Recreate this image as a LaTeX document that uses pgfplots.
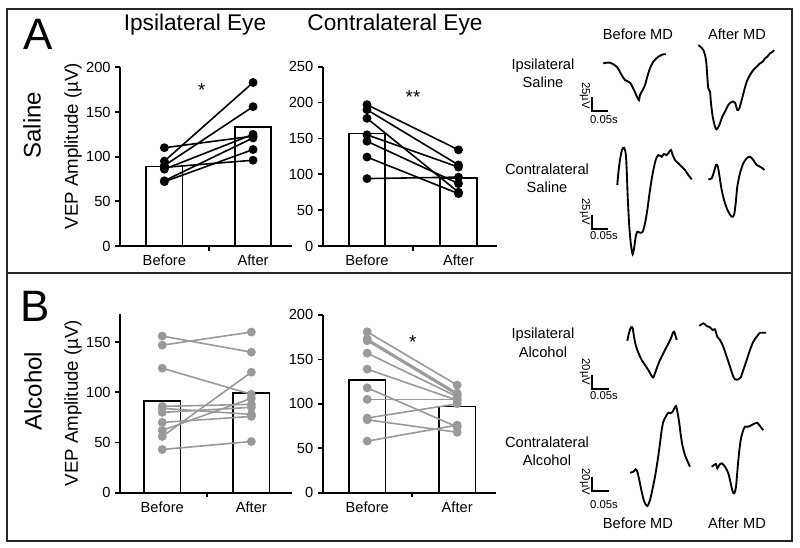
\documentclass[border=0pt]{standalone}
\usepackage{pgfplots}
\pgfplotsset{compat=1.18}
\usepackage{fontspec}
\setmainfont{Liberation Sans}
\definecolor{dotgray}{gray}{0.6}
\pgfplotsset{
  barax/.style={scale only axis, anchor=south west, axis lines=left,
    axis line style={-, line width=1.3pt}, tick align=outside,
    major tick length=3.5pt, ytick style={line width=1.3pt, black},
    xtick style={draw=none}, xtick={1,2}, xticklabels={Before,After},
    ymin=0, tick label style={font=\fontsize{11}{13}\selectfont},
    /pgf/number format/assume math mode=true, clip=false},
  barplot/.style={ybar, bar width=27.3pt, fill=white, draw=black, line width=1.3pt},
  blk/.style={black, line width=1.2pt, mark=*, mark size=2.7pt, mark options={solid}},
  gry/.style={dotgray, line width=1.2pt, mark=*, mark size=2.7pt, mark options={solid}},
  trace/.style={black, line width=1.4pt, smooth, tension=0.5, no marks},
}
\newcommand{\fs}[1]{\fontsize{#1}{#1}\selectfont}
\begin{document}
\begin{tikzpicture}
\useasboundingbox (0pt,0pt) rectangle (600pt,-410.25pt);
% overlay axis in pixel coordinates
\begin{axis}[at={(0pt,0pt)}, anchor=north west, scale only axis, width=600pt, height=410.25pt,
  xmin=0, xmax=800, ymin=0, ymax=547, y dir=reverse, hide axis, clip=false]
\draw[line width=1.5pt, black!85] (axis cs:7,9) rectangle (axis cs:792,541);
\draw[line width=1.5pt, black!85] (axis cs:7,273) -- (axis cs:792,273);
% panel letters and labels
\node[font=\fs{33}] at (axis cs:38,34) {A};
\node[font=\fs{33}] at (axis cs:35,306) {B};
\node[font=\fs{18}, rotate=90] at (axis cs:32,125) {Saline};
\node[font=\fs{18}, rotate=90] at (axis cs:33,391) {Alcohol};
\node[font=\fs{14}, rotate=90] at (axis cs:73,146) {VEP Amplitude (µV)};
\node[font=\fs{14}, rotate=90] at (axis cs:73,403) {VEP Amplitude (µV)};
\node[font=\fs{17}, anchor=base] at (axis cs:195,30) {Ipsilateral Eye};
\node[font=\fs{17}, anchor=base] at (axis cs:395,30) {Contralateral Eye};
% significance
\node[font=\fs{14}] at (axis cs:201.7,90.5) {*};
\node[font=\fs{14}] at (axis cs:413,97) {**};
\node[font=\fs{14}] at (axis cs:412.7,342) {*};
% trace labels
\node[font=\fs{11}] at (axis cs:638,34) {Before MD};
\node[font=\fs{11}] at (axis cs:737,34) {After MD};
\node[font=\fs{11}] at (axis cs:638,523) {Before MD};
\node[font=\fs{11}] at (axis cs:737,523) {After MD};
\node[font=\fs{11}] at (axis cs:543,66) {Ipsilateral};
\node[font=\fs{11}] at (axis cs:543,82) {Saline};
\node[font=\fs{11}] at (axis cs:547,169) {Contralateral};
\node[font=\fs{11}] at (axis cs:547,187) {Saline};
\node[font=\fs{11}] at (axis cs:543,335) {Ipsilateral};
\node[font=\fs{11}] at (axis cs:543,352) {Alcohol};
\node[font=\fs{11}] at (axis cs:547,442) {Contralateral};
\node[font=\fs{11}] at (axis cs:547,460) {Alcohol};
% scale bars
\draw[line width=1.1pt] (axis cs:592,97) -- (axis cs:592,111) -- (axis cs:608,111);
\draw[line width=1.1pt] (axis cs:592,215) -- (axis cs:592,229) -- (axis cs:608,229);
\draw[line width=1.1pt] (axis cs:592,375) -- (axis cs:592,389) -- (axis cs:609,389);
\draw[line width=1.1pt] (axis cs:592,477) -- (axis cs:592,491) -- (axis cs:609,491);
\node[font=\fs{8.5}, rotate=-90, inner sep=0pt] at (axis cs:585,95.5) {25µV};
\node[font=\fs{8.5}, rotate=-90, inner sep=0pt] at (axis cs:585,212) {25µV};
\node[font=\fs{8.5}, rotate=-90, inner sep=0pt] at (axis cs:585,372) {20µV};
\node[font=\fs{8.5}, rotate=-90, inner sep=0pt] at (axis cs:585,482) {20µV};
\node[font=\fs{8.5}, inner sep=0pt] at (axis cs:604,120) {0.05s};
\node[font=\fs{8.5}, inner sep=0pt] at (axis cs:604,236) {0.05s};
\node[font=\fs{8.5}, inner sep=0pt] at (axis cs:604,396) {0.05s};
\node[font=\fs{8.5}, inner sep=0pt] at (axis cs:604,505) {0.05s};
% traces
\addplot[trace] coordinates {(603.3,63.3)(610,62.7)(616.7,66.7)(621.7,75)(625,80)(630,82.7)(634,90)(637.3,97.3)(639,100)(640,95)(642.7,90)(645,85)(647.3,76.7)(650,68.3)(653.3,61.7)(658.3,56.7)(663.3,54.3)(666,54.3)};
\addplot[trace] coordinates {(698.3,45)(703.3,50)(706,60)(707.3,76.7)(708.3,88.3)(710,91.7)(711,103.3)(712.7,116.7)(715,126.7)(716.7,129.3)(719.3,125)(722.3,116.7)(725,111.7)(728.3,105)(731.7,101.7)(735,102.7)(737.3,110)(739.3,108.3)(741.7,100)(744.3,90)(746.7,81.7)(750,75)(753.3,70)(756.7,66.7)(760,63.3)(762.7,61.7)(765,58.3)(767.3,56.7)(770,53.3)(772.7,51.7)(774,50)};
\addplot[trace] coordinates {(617.3,185)(618.3,173.3)(620,160)(622,150)(624,147.7)(625.7,153.3)(626.7,170)(627.7,196.7)(629.3,226.7)(631,245)(632.7,254.3)(634.3,246.7)(635.7,236.7)(637.3,231.7)(640,232.7)(642.7,231.7)(645,223.3)(647.3,210)(650,190)(652.7,173.3)(655.7,160)(658.3,155)(661.7,156.7)(664,154)(666.7,155)(669.3,151.7)(671,150)(672.7,155)(675,160)(678.3,163.3)(681.7,166.7)(685,170)(688.3,175)(691.7,179.3)};
\addplot[trace] coordinates {(708.3,179.3)(711.7,178.3)(714,171.7)(716,165)(717.7,166)(719.3,175)(721.7,190)(725,203.3)(728.3,211.7)(731.7,216.7)(734,215)(735.7,203.3)(737.3,186.7)(740,173.3)(743.3,163.3)(746.7,158.3)(750,156.7)(753.3,160)(756.7,165)(760,166.7)(762.7,168.3)(764.3,170)};
\addplot[trace] coordinates {(627.3,340.7)(629.3,331.7)(631,327.3)(632.7,328.3)(634,336.7)(635.7,345)(637.3,350)(639.3,355)(641.7,360)(645,365)(648.3,370)(651.7,376)(653.3,377.3)(655,373.3)(657.3,366.7)(660,360)(663.3,353.3)(666.7,346.7)(669.3,341.7)(671,338.3)(672.7,333.3)(674,331.7)(675.3,335)(676.7,340)};
\addplot[trace] coordinates {(699.3,326)(703.3,323.3)(706.7,326)(710,327.3)(712.7,330)(715,329.3)(717.3,336.7)(720,340)(723.3,346.7)(726.7,356.7)(730,366.7)(732.7,375)(735,379.3)(738.3,379.3)(740.7,377.3)(743.3,370)(746.7,360)(750,350)(753.3,341.7)(756.7,336.7)(760,332.7)(763.3,332.7)(766,332.7)};
\addplot[trace] coordinates {(630,472.7)(633.3,471.7)(635.7,469.3)(637.3,471.7)(639.3,480)(641.7,491.7)(644.3,501.7)(647.3,506)(650,500)(652.3,490)(655,476.7)(657.7,460)(660,443.3)(661.7,430)(663.3,421.7)(665.7,416.7)(668.3,412.7)(670.7,413.3)(672.7,411.7)(674.3,408.3)(676,406)(677.7,413.3)(679.3,423.3)(681,436.7)(682.7,446.7)(685,455)(687.7,461.7)(690,466.7)};
\addplot[trace] coordinates {(711.7,466.7)(714,465)(716,464)(717.3,468.3)(719.3,465)(721.7,463.3)(725,466.7)(728.3,473.3)(730.7,483.3)(732.7,491.7)(734.3,493.3)(736,486.7)(737.3,471.7)(739,453.3)(740.7,440)(742.7,431.7)(745,426.7)(748.3,426.7)(751.7,425)(755,423.3)(757.3,422.7)(759.3,425)(761.7,428.3)(763.3,430)};
\end{axis}

% A1 ipsilateral saline
\begin{axis}[barax, at={(90pt,-184.5pt)}, width=128.8pt, height=134pt,
  xmin=0.5, xmax=2.436, ymax=200, ytick={0,50,100,150,200}]
\addplot[barplot] coordinates {(1,89) (2,133)};
\draw[line width=1.3pt] (axis cs:1.5,0) -- ++(0pt,-3.5pt);
\addplot[blk] coordinates {(1,110) (2,123)};
\addplot[blk] coordinates {(1,95) (2,183)};
\addplot[blk] coordinates {(1,90) (2,156)};
\addplot[blk] coordinates {(1,88) (2,96)};
\addplot[blk] coordinates {(1,86) (2,125)};
\addplot[blk] coordinates {(1,72) (2,108)};
\addplot[blk] coordinates {(1,73) (2,121)};
\end{axis}

% A2 contralateral saline
\begin{axis}[barax, at={(242pt,-184.5pt)}, width=130.7pt, height=134.5pt,
  xmin=0.516, xmax=2.42, ymax=250, ytick={0,50,100,150,200,250}]
\addplot[barplot] coordinates {(1,157) (2,95)};
\draw[line width=1.3pt] (axis cs:1.5,0) -- ++(0pt,-3.5pt);
\addplot[blk] coordinates {(1,197) (2,134)};
\addplot[blk] coordinates {(1,190) (2,113)};
\addplot[blk] coordinates {(1,178) (2,75)};
\addplot[blk] coordinates {(1,155) (2,110)};
\addplot[blk] coordinates {(1,146) (2,87)};
\addplot[blk] coordinates {(1,124) (2,73)};
\addplot[blk] coordinates {(1,94) (2,96)};
\end{axis}

% B1 ipsilateral alcohol
\begin{axis}[barax, at={(90pt,-369.5pt)}, width=128.8pt, height=134pt,
  xmin=0.526, xmax=2.453, ymax=178, ytick={0,50,100,150}]
\addplot[barplot] coordinates {(1,91) (2,99)};
\draw[line width=1.3pt] (axis cs:1.5,0) -- ++(0pt,-3.5pt);
\addplot[gry] coordinates {(1,156) (2,140)};
\addplot[gry] coordinates {(1,147) (2,160)};
\addplot[gry] coordinates {(1,124) (2,98)};
\addplot[gry] coordinates {(1,86) (2,88)};
\addplot[gry] coordinates {(1,84) (2,78)};
\addplot[gry] coordinates {(1,80) (2,85)};
\addplot[gry] coordinates {(1,70) (2,76)};
\addplot[gry] coordinates {(1,62) (2,94)};
\addplot[gry] coordinates {(1,56) (2,120)};
\addplot[gry] coordinates {(1,43) (2,51)};
\end{axis}

% B2 contralateral alcohol
\begin{axis}[barax, at={(242pt,-369.5pt)}, width=129.9pt, height=133.3pt,
  xmin=0.505, xmax=2.43, ymax=200, ytick={0,50,100,150,200}]
\addplot[barplot] coordinates {(1,127) (2,97)};
\draw[line width=1.3pt] (axis cs:1.5,0) -- ++(0pt,-3.5pt);
\addplot[gry] coordinates {(1,181) (2,121)};
\addplot[gry] coordinates {(1,173) (2,112)};
\addplot[gry] coordinates {(1,171) (2,110)};
\addplot[gry] coordinates {(1,157) (2,108)};
\addplot[gry] coordinates {(1,139) (2,104)};
\addplot[gry] coordinates {(1,118) (2,74)};
\addplot[gry] coordinates {(1,105) (2,105)};
\addplot[gry] coordinates {(1,84) (2,100)};
\addplot[gry] coordinates {(1,82) (2,68)};
\addplot[gry] coordinates {(1,58) (2,76)};
\end{axis}
\end{tikzpicture}
\end{document}
